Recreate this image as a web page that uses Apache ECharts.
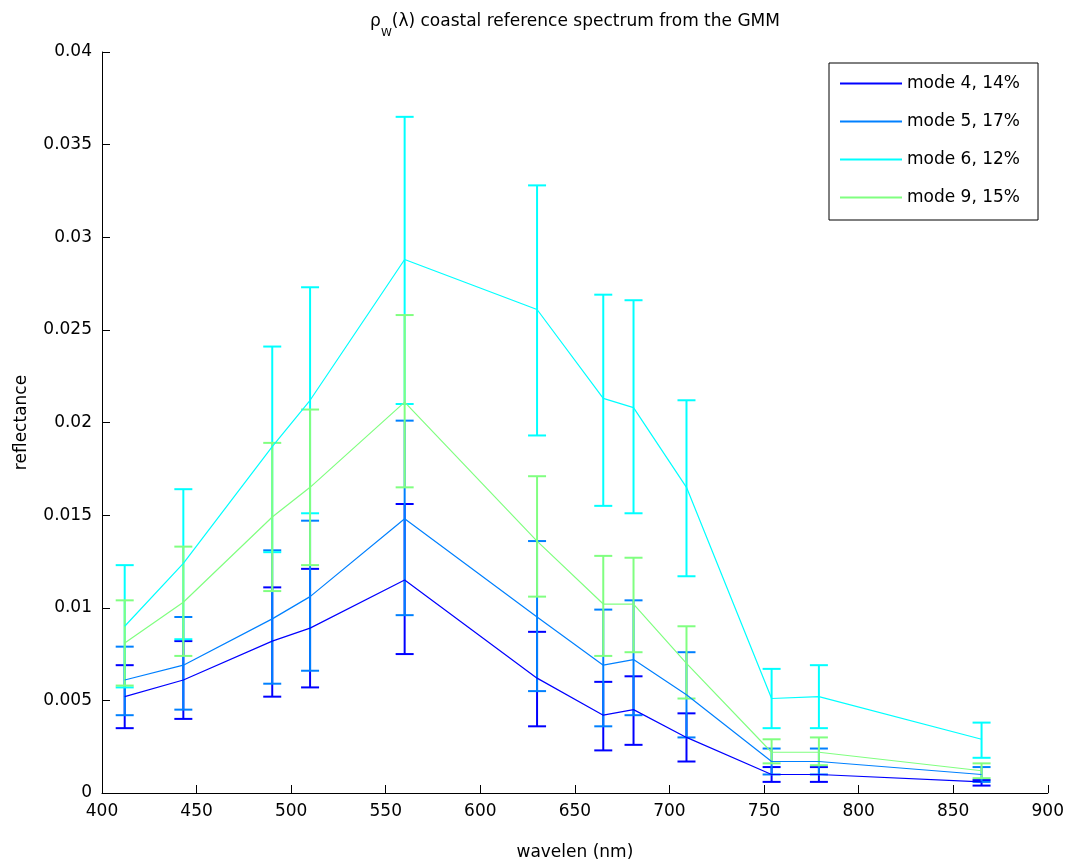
<!DOCTYPE html>
<html>
<head>
<meta charset="utf-8">
<script src="https://cdn.jsdelivr.net/npm/echarts@6/dist/echarts.min.js"></script>
<style>
html,body{margin:0;padding:0;background:#fff;}
#chart{width:1067px;height:866px;}
</style>
</head>
<body>
<div id="chart"></div>
<script>
// Wavelengths (nm)
var wavelengths = [412, 443, 490, 510, 560, 630, 665, 681, 709, 754, 779, 865];

// Series names
var seriesNames = ['mode 4, 14%', 'mode 5, 17%', 'mode 6, 12%', 'mode 9, 15%'];

// Mean reflectance
var mode4Mean = [0.0052, 0.0061, 0.0082, 0.0089, 0.0115, 0.0062, 0.0042, 0.0045, 0.0030, 0.0010, 0.0010, 0.0006];
var mode5Mean = [0.0061, 0.0069, 0.0094, 0.0106, 0.0148, 0.0095, 0.0069, 0.0072, 0.0053, 0.0017, 0.0017, 0.0010];
var mode6Mean = [0.0090, 0.0124, 0.0187, 0.0212, 0.0288, 0.0261, 0.0213, 0.0208, 0.0165, 0.0051, 0.0052, 0.0029];
var mode9Mean = [0.0081, 0.0103, 0.0149, 0.0165, 0.0211, 0.0136, 0.0102, 0.0102, 0.0070, 0.0022, 0.0022, 0.0012];

// Error bar upper ends
var mode4Upper = [0.0069, 0.0082, 0.0111, 0.0121, 0.0156, 0.0087, 0.0060, 0.0063, 0.0043, 0.0014, 0.0014, 0.0007];
var mode5Upper = [0.0079, 0.0095, 0.0131, 0.0147, 0.0201, 0.0136, 0.0099, 0.0104, 0.0076, 0.0024, 0.0024, 0.0014];
var mode6Upper = [0.0123, 0.0164, 0.0241, 0.0273, 0.0365, 0.0328, 0.0269, 0.0266, 0.0212, 0.0067, 0.0069, 0.0038];
var mode9Upper = [0.0104, 0.0133, 0.0189, 0.0207, 0.0258, 0.0171, 0.0128, 0.0127, 0.0090, 0.0029, 0.0030, 0.0016];

// Error bar lower ends
var mode4Lower = [0.0035, 0.0040, 0.0052, 0.0057, 0.0075, 0.0036, 0.0023, 0.0026, 0.0017, 0.0006, 0.0006, 0.0004];
var mode5Lower = [0.0042, 0.0045, 0.0059, 0.0066, 0.0096, 0.0055, 0.0036, 0.0042, 0.0030, 0.0010, 0.0010, 0.0006];
var mode6Lower = [0.0057, 0.0083, 0.0130, 0.0151, 0.0210, 0.0193, 0.0155, 0.0151, 0.0117, 0.0035, 0.0035, 0.0019];
var mode9Lower = [0.0058, 0.0074, 0.0109, 0.0123, 0.0165, 0.0106, 0.0074, 0.0076, 0.0051, 0.0016, 0.0015, 0.0008];

var colors = ['#0000ff', '#0080ff', '#00ffff', '#80ff80'];

var means = [mode4Mean, mode5Mean, mode6Mean, mode9Mean];
var uppers = [mode4Upper, mode5Upper, mode6Upper, mode9Upper];
var lowers = [mode4Lower, mode5Lower, mode6Lower, mode9Lower];

var FONT = 'DejaVu Sans';
var FS = 17;

var series = [];
seriesNames.forEach(function (name, i) {
  series.push({
    name: name,
    type: 'line',
    symbol: 'none',
    showSymbol: false,
    data: wavelengths.map(function (w, k) { return [w, means[i][k]]; }),
    lineStyle: { color: colors[i], width: 1.2 },
    itemStyle: { color: colors[i] },
    animation: false
  });
  series.push({
    name: name + ' err',
    type: 'custom',
    data: wavelengths.map(function (w, k) { return [w, lowers[i][k], uppers[i][k]]; }),
    renderItem: function (params, api) {
      var lo = api.coord([api.value(0), api.value(1)]);
      var hi = api.coord([api.value(0), api.value(2)]);
      var hw = 9;
      var style = { stroke: colors[i], lineWidth: 2, fill: null };
      return {
        type: 'group',
        children: [
          { type: 'line', shape: { x1: lo[0], y1: lo[1], x2: hi[0], y2: hi[1] }, style: style },
          { type: 'line', shape: { x1: hi[0] - hw, y1: hi[1], x2: hi[0] + hw, y2: hi[1] }, style: style },
          { type: 'line', shape: { x1: lo[0] - hw, y1: lo[1], x2: lo[0] + hw, y2: lo[1] }, style: style }
        ]
      };
    },
    encode: { x: 0, y: [1, 2] },
    animation: false,
    silent: true
  });
});

var chart = echarts.init(document.getElementById('chart'), null, { renderer: 'canvas' });
chart.setOption({
  backgroundColor: '#ffffff',
  animation: false,
  textStyle: { fontFamily: FONT },
  title: {
    text: '{r|ρ}{s|W}{r|(λ) coastal reference spectrum from the GMM}',
    left: 570,
    top: 0,
    textAlign: 'center',
    textStyle: {
      fontWeight: 'normal',
      rich: {
        r: { fontFamily: FONT, fontSize: 17, fontWeight: 'normal', color: '#000', lineHeight: 26 },
        s: { fontFamily: FONT, fontSize: 11, fontWeight: 'normal', color: '#000', lineHeight: 34, verticalAlign: 'bottom' }
      }
    }
  },
  legend: {
    data: seriesNames.map(function (n) { return { name: n, icon: 'rect' }; }),
    orient: 'vertical',
    left: 829,
    top: 63,
    itemWidth: 62,
    itemHeight: 2,
    itemGap: 21,
    padding: [12, 18, 14, 11],
    borderColor: '#000',
    borderWidth: 1,
    backgroundColor: '#fff',
    textStyle: { fontFamily: FONT, fontSize: FS, color: '#000', lineHeight: 17 },
    selectedMode: false
  },
  grid: { left: 102, right: 18, top: 52, bottom: 68, containLabel: false },
  xAxis: {
    type: 'value',
    min: 400,
    max: 900,
    interval: 50,
    name: 'wavelen (nm)',
    nameLocation: 'middle',
    nameGap: 51,
    nameTextStyle: { fontFamily: FONT, fontSize: FS, color: '#000' },
    axisLine: { show: true, lineStyle: { color: '#000', width: 1 } },
    axisTick: { show: true, inside: true, length: 8, lineStyle: { color: '#000' } },
    axisLabel: { fontFamily: FONT, fontSize: FS, color: '#000', margin: 10 },
    splitLine: { show: false }
  },
  yAxis: {
    type: 'value',
    min: 0,
    max: 0.04,
    interval: 0.005,
    name: 'reflectance',
    nameLocation: 'middle',
    nameRotate: 90,
    nameGap: 72,
    nameTextStyle: { fontFamily: FONT, fontSize: FS, color: '#000' },
    axisLine: { show: true, lineStyle: { color: '#000', width: 1 } },
    axisTick: { show: true, inside: true, length: 8, lineStyle: { color: '#000' } },
    axisLabel: {
      fontFamily: FONT, fontSize: FS, color: '#000', margin: 10,
      formatter: function (v) { return String(+v.toFixed(4)); }
    },
    splitLine: { show: false }
  },
  series: series
});
</script>
</body>
</html>
